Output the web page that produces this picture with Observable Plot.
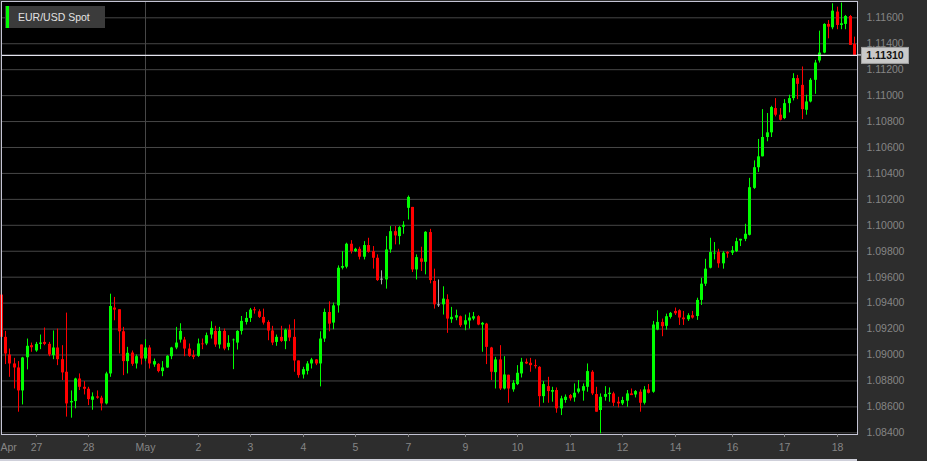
<!DOCTYPE html>
<html><head><meta charset="utf-8">
<script src="https://cdn.jsdelivr.net/npm/d3@7"></script>
<script src="https://cdn.jsdelivr.net/npm/@observablehq/plot@0.6"></script>
<style>
html,body{margin:0;padding:0;background:#2d2d2d;}
#wrap{position:relative;width:927px;height:461px;overflow:hidden;background:#2d2d2d;}
#wrap svg{display:block;}
#legend{position:absolute;left:5px;top:6px;width:100px;height:22px;background:#3b3b3b;font:10.5px "Liberation Sans",Arial,sans-serif;color:#e2e2e2;line-height:22px;}
#legend .sw{position:absolute;left:1px;top:0;width:3px;height:22px;background:#00ff00;}
#legend span{position:absolute;left:13px;top:0;}
#scroll{position:absolute;left:0;top:459px;width:857px;height:2px;background:#cfd0da;}
</style></head><body>
<div id="wrap"><div id="legend"><div class="sw"></div><span id="lgtext"></span></div><div id="scroll"></div></div>
<script>
const seriesName = "EUR/USD Spot";
const opens = [1.09462,1.09136,1.09000,1.08931,1.08900,1.08723,1.08979,1.09072,1.09031,1.09082,1.09097,1.09082,1.08995,1.09054,1.08964,1.08867,1.08631,1.08641,1.08815,1.08751,1.08736,1.08651,1.08677,1.08667,1.08623,1.08854,1.09362,1.09349,1.09179,1.08949,1.09015,1.08931,1.09077,1.08969,1.09054,1.08923,1.08928,1.08872,1.08900,1.08987,1.09054,1.09115,1.09115,1.09046,1.08995,1.08990,1.09085,1.09085,1.09154,1.09182,1.09077,1.09182,1.09059,1.09110,1.09092,1.09182,1.09251,1.09282,1.09349,1.09333,1.09290,1.09251,1.09185,1.09097,1.09136,1.09103,1.09192,1.09136,1.08954,1.08846,1.08874,1.08931,1.08962,1.08931,1.09123,1.09328,1.09246,1.09379,1.09669,1.09677,1.09854,1.09797,1.09815,1.09754,1.09844,1.09797,1.09746,1.09585,1.09579,1.09810,1.09951,1.09913,1.09985,1.10131,1.10138,1.09656,1.09741,1.09715,1.09944,1.09567,1.09387,1.09387,1.09426,1.09272,1.09285,1.09295,1.09231,1.09262,1.09277,1.09295,1.09231,1.09238,1.09054,1.08864,1.08962,1.08738,1.08844,1.08731,1.08772,1.08854,1.08944,1.08936,1.08918,1.08905,1.08679,1.08756,1.08713,1.08726,1.08585,1.08649,1.08687,1.08669,1.08713,1.08721,1.08751,1.08867,1.08695,1.08572,1.08674,1.08695,1.08700,1.08636,1.08623,1.08644,1.08700,1.08692,1.08713,1.08628,1.08731,1.08713,1.09192,1.09251,1.09221,1.09290,1.09336,1.09341,1.09285,1.09272,1.09303,1.09297,1.09421,1.09546,1.09669,1.09779,1.09790,1.09703,1.09790,1.09785,1.09797,1.09879,1.09892,1.09923,1.10285,1.10444,1.10528,1.10677,1.10713,1.10900,1.10849,1.10823,1.10938,1.10977,1.11131,1.11079,1.10887,1.10951,1.11118,1.11267,1.11328,1.11549,1.11523,1.11644,1.11541,1.11549,1.11610,1.11395];
const highs = [1.09508,1.09182,1.09046,1.08974,1.08949,1.08982,1.09123,1.09092,1.09097,1.09154,1.09208,1.09097,1.09185,1.09200,1.09072,1.09323,1.08723,1.08821,1.08854,1.08795,1.08751,1.08708,1.08723,1.08682,1.08867,1.09469,1.09444,1.09349,1.09213,1.09059,1.09031,1.09000,1.09077,1.09118,1.09072,1.08969,1.08933,1.08949,1.08995,1.09059,1.09213,1.09241,1.09136,1.09085,1.09033,1.09123,1.09123,1.09169,1.09256,1.09221,1.09213,1.09200,1.09149,1.09123,1.09187,1.09297,1.09328,1.09359,1.09367,1.09349,1.09354,1.09264,1.09221,1.09154,1.09221,1.09200,1.09231,1.09272,1.08954,1.08905,1.08949,1.08974,1.08964,1.09179,1.09354,1.09410,1.09400,1.09687,1.09797,1.09862,1.09882,1.09823,1.09831,1.09874,1.09900,1.09836,1.09772,1.09649,1.09913,1.09990,1.09990,1.09990,1.10028,1.10226,1.10138,1.09772,1.09831,1.09951,1.09969,1.09662,1.09579,1.09526,1.09464,1.09367,1.09346,1.09300,1.09308,1.09323,1.09328,1.09303,1.09251,1.09244,1.09059,1.08982,1.09072,1.08987,1.08844,1.08803,1.08918,1.08974,1.08969,1.08974,1.08962,1.08910,1.08795,1.08828,1.08751,1.08746,1.08682,1.08692,1.08695,1.08777,1.08803,1.08777,1.08931,1.08879,1.08751,1.08700,1.08756,1.08746,1.08713,1.08674,1.08674,1.08726,1.08738,1.08726,1.08731,1.08756,1.08772,1.09259,1.09341,1.09277,1.09315,1.09328,1.09362,1.09349,1.09336,1.09318,1.09336,1.09438,1.09592,1.09738,1.09900,1.09867,1.09815,1.09797,1.09797,1.09836,1.09900,1.09892,1.10008,1.10362,1.10497,1.10662,1.10892,1.10862,1.10918,1.10977,1.10900,1.10969,1.11003,1.11169,1.11156,1.11221,1.11003,1.11131,1.11272,1.11497,1.11554,1.11579,1.11708,1.11682,1.11713,1.11618,1.11618,1.11451];
const lows = [1.09123,1.08926,1.08828,1.08738,1.08559,1.08615,1.08885,1.09021,1.09021,1.09041,1.09072,1.08987,1.08964,1.08918,1.08803,1.08521,1.08513,1.08585,1.08726,1.08692,1.08610,1.08574,1.08659,1.08569,1.08615,1.08828,1.09264,1.09008,1.08841,1.08854,1.08913,1.08892,1.08923,1.08949,1.08892,1.08905,1.08862,1.08833,1.08897,1.08964,1.09041,1.09092,1.08987,1.08982,1.08964,1.08982,1.09041,1.09072,1.09123,1.09059,1.09046,1.09033,1.09033,1.08887,1.09038,1.09154,1.09231,1.09251,1.09315,1.09282,1.09231,1.09110,1.09072,1.09067,1.09097,1.09041,1.09103,1.08867,1.08821,1.08815,1.08846,1.08892,1.08918,1.08754,1.09097,1.09179,1.09195,1.09323,1.09656,1.09664,1.09779,1.09790,1.09733,1.09733,1.09785,1.09662,1.09567,1.09541,1.09508,1.09785,1.09849,1.09849,1.09931,1.10041,1.09636,1.09579,1.09644,1.09618,1.09549,1.09354,1.09367,1.09308,1.09167,1.09244,1.09264,1.09213,1.09187,1.09200,1.09264,1.09226,1.09021,1.08926,1.08803,1.08738,1.08726,1.08731,1.08628,1.08713,1.08764,1.08823,1.08926,1.08867,1.08892,1.08597,1.08628,1.08628,1.08636,1.08551,1.08533,1.08628,1.08644,1.08636,1.08700,1.08644,1.08713,1.08687,1.08559,1.08392,1.08644,1.08636,1.08603,1.08592,1.08610,1.08597,1.08687,1.08669,1.08559,1.08615,1.08700,1.08705,1.09187,1.09141,1.09192,1.09277,1.09305,1.09228,1.09228,1.09259,1.09277,1.09267,1.09382,1.09528,1.09664,1.09733,1.09669,1.09662,1.09746,1.09767,1.09790,1.09836,1.09874,1.09918,1.10277,1.10408,1.10528,1.10644,1.10677,1.10836,1.10805,1.10815,1.10867,1.10959,1.10969,1.10815,1.10849,1.10944,1.11010,1.11251,1.11323,1.11438,1.11508,1.11508,1.11508,1.11508,1.11387,1.11303];
const closes = [1.09136,1.09008,1.08931,1.08900,1.08723,1.08977,1.09067,1.09056,1.09082,1.09092,1.09082,1.09000,1.09054,1.08964,1.08862,1.08623,1.08641,1.08815,1.08751,1.08736,1.08656,1.08677,1.08667,1.08623,1.08854,1.09374,1.09346,1.09179,1.08949,1.09013,1.08928,1.08987,1.08969,1.09054,1.08931,1.08949,1.08872,1.08900,1.08990,1.09054,1.09092,1.09182,1.09046,1.08990,1.08982,1.09085,1.09079,1.09149,1.09205,1.09077,1.09182,1.09046,1.09090,1.09115,1.09182,1.09259,1.09282,1.09346,1.09341,1.09290,1.09246,1.09185,1.09092,1.09136,1.09105,1.09192,1.09131,1.08954,1.08841,1.08887,1.08931,1.08962,1.08931,1.09123,1.09328,1.09238,1.09379,1.09669,1.09682,1.09854,1.09797,1.09815,1.09754,1.09844,1.09792,1.09746,1.09574,1.09585,1.09810,1.09951,1.09918,1.09982,1.10000,1.10215,1.09656,1.09751,1.09715,1.09946,1.09574,1.09387,1.09387,1.09431,1.09277,1.09290,1.09303,1.09226,1.09264,1.09285,1.09295,1.09231,1.09244,1.09059,1.08867,1.08962,1.08738,1.08846,1.08738,1.08782,1.08859,1.08944,1.08931,1.08918,1.08910,1.08679,1.08772,1.08718,1.08726,1.08585,1.08662,1.08674,1.08662,1.08705,1.08738,1.08756,1.08872,1.08700,1.08559,1.08674,1.08695,1.08705,1.08628,1.08623,1.08649,1.08700,1.08687,1.08718,1.08628,1.08731,1.08705,1.09231,1.09251,1.09218,1.09295,1.09321,1.09318,1.09285,1.09272,1.09303,1.09285,1.09421,1.09546,1.09662,1.09790,1.09785,1.09703,1.09785,1.09779,1.09803,1.09874,1.09892,1.09931,1.10290,1.10444,1.10528,1.10677,1.10713,1.10908,1.10849,1.10810,1.10938,1.10977,1.11131,1.11087,1.10892,1.10951,1.11118,1.11251,1.11328,1.11549,1.11528,1.11651,1.11541,1.11554,1.11610,1.11387,1.11310];
const dayTickIndex = [8,20,33,45,57,69,81,93,106,118,130,142,154,167,179,191];
const dayTickLabels = ["27","28","May","2","3","4","5","7","9","10","11","12","14","16","17","18"];
const firstLabel = "Apr";
const monthGridIndex = [33];
const priceTicks = [1.084,1.086,1.088,1.090,1.092,1.094,1.096,1.098,1.100,1.102,1.104,1.106,1.108,1.110,1.112,1.114,1.116];

document.getElementById("lgtext").textContent = seriesName;

const candles = opens.map((o, i) => ({i, open: o, high: highs[i], low: lows[i], close: closes[i]}));
const up = "#00ff00", down = "#ff0000", flat = "#a8a8a8";
const col = d => d.close > d.open ? up : d.close < d.open ? down : flat;
const bodies = candles.filter(d => d.open !== d.close);
const dojis = candles.filter(d => d.open === d.close);
const labelOf = new Map(dayTickIndex.map((t, k) => [t, dayTickLabels[k]]));
const xDomain = [0.114, 195.64];
const yDomain = [1.08387, 1.117257];
const last = closes[closes.length - 1];
const font = '"Liberation Sans", Arial, Helvetica, sans-serif';

const chart = Plot.plot({
  width: 927, height: 461,
  marginLeft: 1, marginRight: 70, marginTop: 1, marginBottom: 27,
  style: {background: "#2d2d2d", fontFamily: font, fontSize: "10.5px", overflow: "visible"},
  x: {domain: xDomain, round: true, label: null},
  y: {domain: yDomain, label: null},
  marks: [
    Plot.frame({fill: "#000000"}),
    Plot.gridY({ticks: priceTicks, stroke: "#474747", strokeOpacity: 1}),
    Plot.gridX({ticks: monthGridIndex, stroke: "#474747", strokeOpacity: 1}),
    Plot.ruleX(candles, {x: "i", y1: "low", y2: "high", stroke: col, strokeWidth: 1}),
    Plot.ruleX(bodies, {x: "i", y1: "open", y2: "close", stroke: col, strokeWidth: 3}),
    Plot.ruleY(dojis, {y: "open", x1: d => d.i - 0.35, x2: d => d.i + 0.35, stroke: col}),
    Plot.ruleY([last], {stroke: "#e4e4ee", strokeWidth: 1.2}),
    Plot.frame({stroke: "#c4c4d4", strokeWidth: 1}),
    Plot.axisY({anchor: "right", label: null, ticks: priceTicks, tickFormat: d3.format(".5f"), tickSize: 0, tickPadding: 9, color: "#858585", fontSize: "10.5px"}),
    Plot.axisX({label: null, ticks: dayTickIndex, tickFormat: d => labelOf.get(d), tickSize: 3, tickPadding: 6, color: "#858585", fontSize: "10.5px"}),
    Plot.text([firstLabel], {x: xDomain[0], y: yDomain[0], text: d => d, textAnchor: "start", dx: -1, dy: 13, fill: "#858585", fontSize: "10.5px"})
  ]
});

document.getElementById("wrap").prepend(chart);

// current price label box on the right axis
const yPx = chart.scale("y").apply(last);
const xRight = chart.scale("x").apply(xDomain[1]);
const svg = d3.select(chart);
const g = svg.append("g");
g.append("line").attr("x1", xRight).attr("x2", xRight + 5).attr("y1", yPx).attr("y2", yPx)
  .attr("stroke", "#e4e4ee").attr("stroke-width", 1.2);
g.append("rect").attr("x", xRight + 4.5).attr("y", yPx - 7.5).attr("width", 47).attr("height", 16)
  .attr("fill", "#c9c9c9").attr("stroke", "#a0a0a0");
g.append("text").attr("x", xRight + 28).attr("y", yPx + 0.5).attr("text-anchor", "middle")
  .attr("dominant-baseline", "central").attr("font-family", font).attr("font-size", "10.5px")
  .attr("font-weight", "bold").attr("fill", "#111").text(d3.format(".5f")(last));
</script>
</body></html>
